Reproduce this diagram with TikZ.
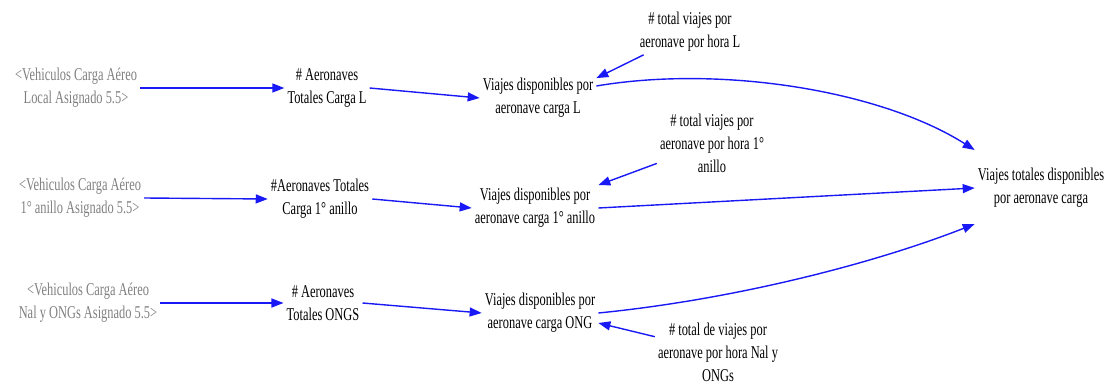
\documentclass[tikz,border=0pt]{standalone}
\usepackage{fontspec}
\setmainfont[FakeStretch=0.69]{Liberation Serif}
\usetikzlibrary{arrows.meta}
\definecolor{linkblue}{RGB}{25,25,245}
\definecolor{shadowgray}{RGB}{128,128,128}
\begin{document}
\begin{tikzpicture}[x=1pt,y=-1pt,
  var/.style={align=center,inner sep=3pt,font=\fontsize{18}{23}\selectfont},
  shadow/.style={var,text=shadowgray},
  link/.style={draw=linkblue,line width=1.4pt,-{Triangle[length=12pt,width=9pt]}}]
\useasboundingbox (0,0) rectangle (1108,385);

% shadow variables (inputs from other views)
\node[shadow] (G1) at (76,88)  {<Vehiculos Carga Aéreo\\Local Asignado 5.5>};
\node[shadow] (G2) at (80,198) {<Vehiculos Carga Aéreo\\1° anillo Asignado 5.5>};
\node[shadow] (G3) at (88,303) {<Vehiculos Carga Aéreo\\Nal y ONGs Asignado 5.5>};

% fleet sizes
\node[var] (A1) at (327,88)  {\# Aeronaves\\Totales Carga L};
\node[var] (A2) at (320,199) {\#Aeronaves Totales\\Carga 1° anillo};
\node[var] (A3) at (323,303) {\# Aeronaves\\Totales ONGS};

% available trips per aircraft
\node[var] (V1) at (538,98)  {Viajes disponibles por\\aeronave carga L};
\node[var] (V2) at (535,208) {Viajes disponibles por\\aeronave carga 1° anillo};
\node[var] (V3) at (540,313) {Viajes disponibles por\\aeronave carga ONG};

% trips per hour
\node[var] (T1) at (690,32)  {\# total viajes por\\aeronave por hora L};
\node[var] (T2) at (712,143) {\# total viajes por\\aeronave por hora 1°\\anillo};
\node[var] (T3) at (718,352) {\# total de viajes por\\aeronave por hora Nal y\\ONGs};

% total
\node[var] (VT) at (1041,188) {Viajes totales disponibles\\por aeronave carga};

% links
\draw[link] (G1.east) -- (A1.west);
\draw[link] (G2.east) -- (A2.west);
\draw[link] (G3.east) -- (A3.west);

\draw[link] (A1.east) -- (V1.west);
\draw[link] (A2.east) -- (V2.west);
\draw[link] (A3.east) -- (V3.west);

\draw[link] (T1) -- ([yshift=-3pt]V1.north east);
\draw[link] (T2) -- (V2.north east);
\draw[link] (T3) -- ([yshift=-10pt]V3.east);

\draw[link] ([yshift=12pt]V1.east) .. controls (720,65) and (880,90) .. ([yshift=38pt]VT.west);
\draw[link] (V2.east) -- (VT.west);
\draw[link] (V3.east) .. controls (730,300) and (870,265) .. ([yshift=-36pt]VT.west);
\end{tikzpicture}
\end{document}
